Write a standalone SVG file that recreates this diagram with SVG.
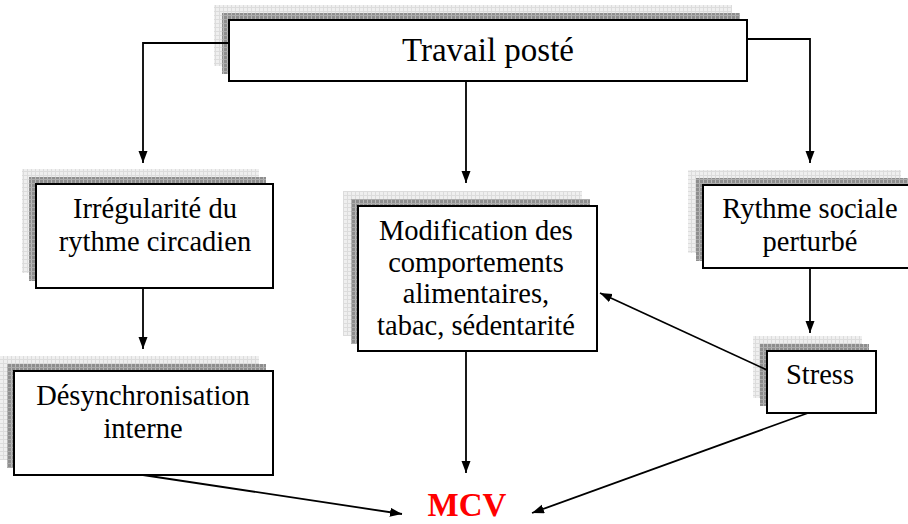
<svg xmlns="http://www.w3.org/2000/svg" width="908" height="524" viewBox="0 0 908 524">
<defs>
<pattern id="pd" width="4" height="4" patternUnits="userSpaceOnUse">
<rect width="4" height="4" fill="#8e8e8e"/>
<rect x="3" width="1" height="4" fill="#b8b8b8"/>
<rect y="3" width="4" height="1" fill="#acacac"/>
</pattern>
<pattern id="pl" width="4" height="4" patternUnits="userSpaceOnUse">
<rect width="4" height="4" fill="#efefef"/>
<rect x="3" width="1" height="4" fill="#dcdcdc"/>
<rect y="3" width="4" height="1" fill="#dcdcdc"/>
</pattern>
<marker id="ah" markerUnits="userSpaceOnUse" markerWidth="13" markerHeight="10" refX="12" refY="4.5" orient="auto">
<path d="M0,0 L12,4.5 L0,9 z" fill="#000"/>
</marker>
</defs>
<style>
.sl{fill:url(#pl);}
.sd{fill:url(#pd);}
.bx{fill:#fff;stroke:#000;stroke-width:2;}
.t{font-family:"Liberation Serif","Times New Roman",serif;font-size:28.5px;fill:#000;text-anchor:middle;}
.c{fill:none;stroke:#000;stroke-width:1.8;marker-end:url(#ah);}
</style>

<g id="travail">
<rect class="sl" x="214" y="5" width="518" height="61"/>
<rect class="sd" x="222" y="13" width="518" height="61"/>
<rect class="bx" x="229" y="20" width="518" height="61"/>
<text class="t" x="488" y="61" style="font-size:33px">Travail posté</text>
</g>

<g id="irregularite">
<rect class="sl" x="22" y="169" width="237" height="104"/>
<rect class="sd" x="29" y="177" width="237" height="104"/>
<rect class="bx" x="36" y="184" width="237" height="104"/>
<text class="t" x="155" y="218">Irrégularité du</text>
<text class="t" x="155" y="251">rythme circadien</text>
</g>

<g id="desynchronisation">
<rect class="sl" x="0" y="356" width="259" height="104"/>
<rect class="sd" x="7" y="364" width="259" height="104"/>
<rect class="bx" x="14" y="371" width="259" height="104"/>
<text class="t" x="143" y="405">Désynchronisation</text>
<text class="t" x="143" y="438">interne</text>
</g>

<g id="modification">
<rect class="sl" x="343" y="191" width="239" height="145"/>
<rect class="sd" x="351" y="199" width="239" height="145"/>
<rect class="bx" x="358" y="206" width="239" height="145"/>
<text class="t" x="476" y="240">Modification des</text>
<text class="t" x="476" y="272">comportements</text>
<text class="t" x="476" y="303">alimentaires,</text>
<text class="t" x="476" y="335">tabac, sédentarité</text>
</g>

<g id="rythme">
<rect class="sl" x="688" y="170" width="213" height="83"/>
<rect class="sd" x="696" y="178" width="213" height="83"/>
<rect class="bx" x="703" y="185" width="213" height="83"/>
<text class="t" x="810" y="218">Rythme sociale</text>
<text class="t" x="810" y="251">perturbé</text>
</g>

<g id="stress">
<rect class="sl" x="753" y="336" width="109" height="62"/>
<rect class="sd" x="760" y="344" width="109" height="62"/>
<rect class="bx" x="767" y="351" width="109" height="62"/>
<text class="t" x="820" y="384">Stress</text>
</g>

<g id="mcv">
<text x="467" y="516" style="font-family:'Liberation Serif','Times New Roman',serif;font-size:33px;font-weight:bold;fill:#ff0000;text-anchor:middle">MCV</text>
</g>

<g id="connectors">
<path class="c" d="M229,43 H143 V163"/>
<path class="c" d="M466,81 V183"/>
<path class="c" d="M747,39 H810 V163"/>
<path class="c" d="M143,288 V349"/>
<path class="c" d="M810,268 V333"/>
<path class="c" d="M767,370 L600,293"/>
<path class="c" d="M466,351 V473"/>
<path class="c" d="M143,475 L402,514"/>
<path class="c" d="M808,413 L532,513"/>
</g>
</svg>
